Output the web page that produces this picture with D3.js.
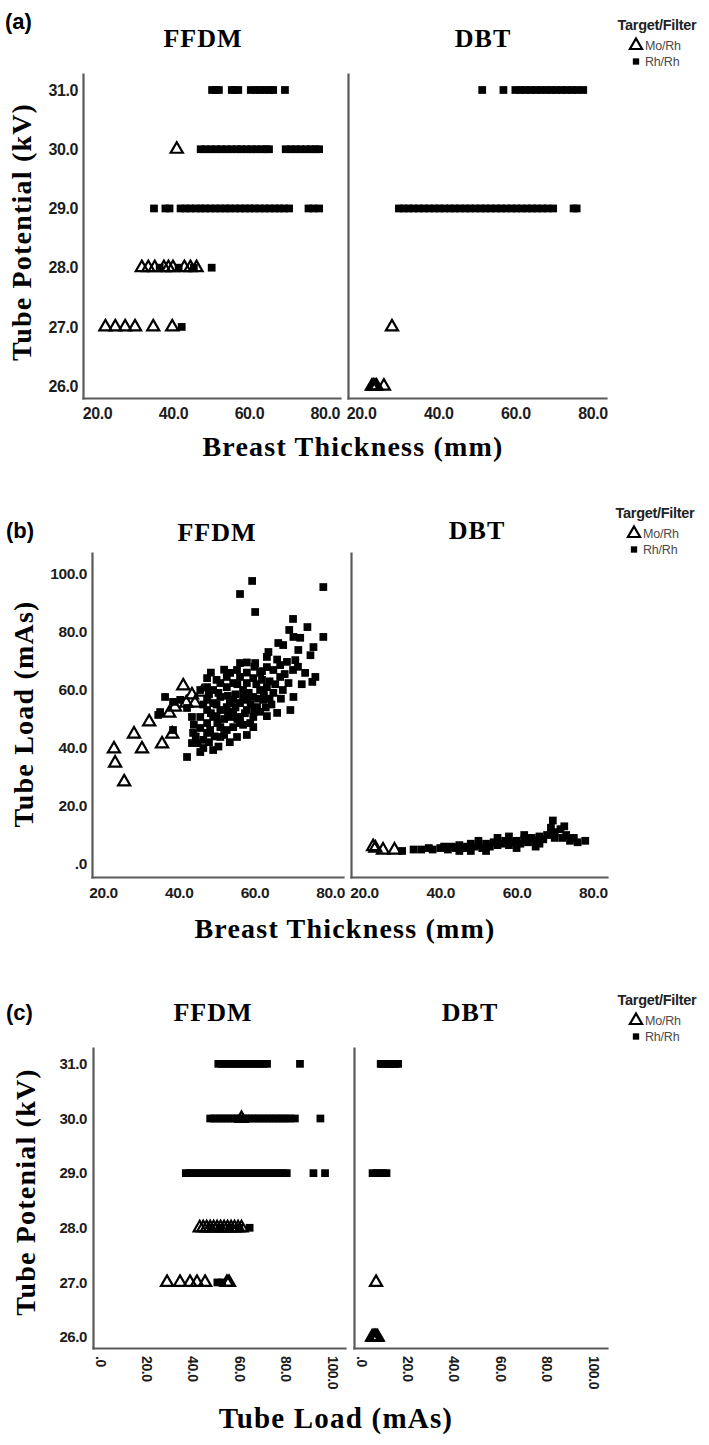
<!DOCTYPE html>
<html><head><meta charset="utf-8">
<script src="https://cdn.jsdelivr.net/npm/d3@7"></script>
<style>body{margin:0;background:#fff}</style>
</head><body><svg id="chart" width="709" height="1445"></svg>
<script>
// ---------------- DATA ----------------
const kvTicks = [26, 27, 28, 29, 30, 31];
const thickTicks = [20, 40, 60, 80];
const loadTicks = [0, 20, 40, 60, 80, 100];
const targetFilters = ["Mo/Rh", "Rh/Rh"];
const modalities = ["FFDM", "DBT"];

// (a) Breast thickness (mm) vs tube potential (kV)
const aFfdmMo = [[41.0,30],[31.8,28],[33.5,28],[35.2,28],[37.6,28],[38.8,28],[40.0,28],[43.0,28],[44.6,28],[46.2,28],
  [22.2,27],[24.8,27],[27.4,27],[30.0,27],[34.8,27],[39.8,27]];
const aFfdmRh = [
  [50.3,31],[51.2,31],[52.1,31],[55.5,31],[56.3,31],[57.2,31],[60.5,31],[61.8,31],[63.0,31],[64.2,31],[65.4,31],[66.4,31],[69.5,31],
  [47.3,30],[48.6,30],[50.0,30],[51.4,30],[52.7,30],[54.0,30],[55.4,30],[56.8,30],[58.0,30],[59.4,30],[60.7,30],[62.0,30],[63.4,30],[64.5,30],[65.3,30],
  [69.7,30],[71.0,30],[72.3,30],[73.6,30],[75.0,30],[76.3,30],[77.5,30],[78.5,30],
  [35.0,29],[38.0,29],[39.1,29],[42.0,29],[43.3,29],[44.6,29],[46.0,29],[47.3,29],[48.5,29],[49.8,29],[51.2,29],[52.5,29],[53.8,29],[55.0,29],
  [56.4,29],[57.7,29],[59.0,29],[60.2,29],[61.5,29],[62.8,29],[64.2,29],[65.5,29],[66.8,29],[68.0,29],[69.3,29],[70.6,29],[75.7,29],[77.0,29],[78.5,29],
  [36.5,28],[41.5,28],[45.5,28],[50.2,28],[42.3,27]];
const aDbtMo = [[28.0,27],[22.8,26],[23.2,26],[23.6,26],[24.0,26],[25.9,26]];
const aDbtRh = [
  [51.4,31],[56.9,31],[60.0,31],[61.3,31],[62.6,31],[64.0,31],[65.3,31],[66.6,31],[68.0,31],[69.3,31],[70.6,31],[72.0,31],[73.3,31],[74.6,31],[76.0,31],[77.6,31],
  [29.8,29],[31.0,29],[32.3,29],[33.6,29],[35.0,29],[36.3,29],[37.6,29],[39.0,29],[40.3,29],[41.6,29],[43.0,29],[44.3,29],[45.6,29],[47.0,29],[48.3,29],
  [49.6,29],[51.0,29],[52.3,29],[53.6,29],[55.0,29],[56.3,29],[57.6,29],[59.0,29],[60.3,29],[61.6,29],[63.0,29],[64.3,29],[65.6,29],[67.0,29],[68.3,29],
  [69.8,29],[75.1,29],[75.9,29]];

// (b) Breast thickness (mm) vs tube load (mAs)
const bFfdmMo = [[22.9,39.7],[23.2,34.8],[25.6,28.3],[28.2,44.8],[30.3,39.7],[32.2,49.0],[35.6,41.4],[38.3,44.8],[41.2,61.4],
  [43.5,58.3],[46.2,59.3],[44.3,55.5],[39.0,54.1],[37.5,52.0],[42.0,55.5]];
const bFfdmRh = [[59.4,97.6],[56.2,93.1],[60.2,86.9],[78.2,95.5],[70.2,84.5],[78.2,78.3],[74.0,81.7],[69.2,80.7],[70.3,78.3],[66.3,76.2],
  [72.1,78.0],[75.6,74.8],[74.8,72.0],[63.3,71.4],[60.2,69.3],[68.6,69.7],[70.8,70.3],[76.1,64.5],[75.3,62.8],[73.4,65.9],[70.2,66.9],
  [69.0,62.4],[70.3,57.6],[66.0,52.1],[63.3,51.0],[65.0,66.9],[66.8,64.5],[63.3,67.9],[61.5,65.9],[59.7,64.1],[58.0,62.4],[56.2,64.5],
  [54.4,62.4],[52.7,64.5],[52.7,61.0],[47.5,64.1],[49.1,60.0],[51.0,57.6],[54.4,56.6],[56.2,55.5],[58.0,56.6],[59.7,57.6],[61.5,60.0],
  [63.3,61.0],[65.0,59.0],[62.3,56.6],[60.7,54.1],[58.0,53.1],[56.2,50.7],[54.4,52.1],[52.7,54.1],[51.0,53.1],[49.1,55.5],[47.5,56.6],
  [47.5,53.1],[49.1,50.7],[47.5,48.6],[45.7,50.7],[45.7,46.9],[47.5,45.2],[46.5,42.8],[44.9,41.7],[45.7,38.6],[49.1,39.3],[51.0,43.8],
  [52.7,46.2],[54.4,47.2],[55.4,43.8],[58.0,44.5],[56.2,48.6],[58.9,48.6],[59.7,50.7],[51.0,47.2],[42.2,36.9],[43.5,41.7],[43.8,45.2],
  [38.5,46.2],[36.4,57.6],[38.5,55.9],[40.4,56.6],[34.6,51.4],[35.1,52.4],[42.2,53.8],[43.5,50.7],[45.7,60.0],[47.5,61.0],[51.0,62.4],
  [53.6,65.9],[55.4,66.9],[56.2,69.3],[66.8,68.6],[63.7,73.1],[67.6,75.5],[71.6,73.8],[69.5,53.1],[59.7,47.2],[53.6,50.7],[50.2,48.6],
  [48.3,46.2],[55.0,58.5],[57.0,60.0],[53.0,58.0],[50.0,51.0],[60.5,62.0],[62.0,63.5],[64.0,63.0],[57.5,52.0],[61.5,52.5],[44.0,48.0],
  [48.0,58.5],[58.0,66.0],
  [46.5,55.0],[48.5,52.0],[50.0,55.0],[50.5,59.0],[52.0,50.0],[53.0,52.5],[53.5,55.5],[55.0,54.0],[55.5,50.0],[57.0,57.5],[57.0,48.0],
  [58.5,59.0],[59.0,55.0],[60.0,52.5],[61.0,57.0],[62.5,58.5],[63.0,54.0],[64.0,57.0],[65.5,62.0],[67.5,60.0],[68.0,65.5],[62.0,66.5],
  [60.0,68.0],[58.0,69.5],[49.5,44.0],[52.0,44.5],[53.5,42.0],[48.0,42.0],[46.5,40.0],[50.5,40.5],[44.5,44.0],[55.5,62.0],[50.0,63.5],
  [52.0,67.0],[48.5,66.0],[71.5,68.0],[72.5,62.0],[67.0,57.0],[64.5,55.0],[66.0,70.5]];
const bDbtMo = [[22.4,6.0],[23.0,5.5],[25.0,4.8],[28.0,4.8]];
const bDbtRh = [[30,4.5],[33,5],[35,5],[37,5.5],[38,5],[40,5.5],[41,6],[42,5],[43,6],[44,5.5],[45,6.5],[46,5.5],[47,6],[48,7],[49,6],
  [50,6.5],[51,5.5],[52,7],[53,6],[54,7.5],[55,6.5],[56,7],[57,8],[58,6.5],[59,7.5],[60,8],[61,7],[62,8.5],[63,7.5],[64,9],[65,8],
  [66,9.5],[67,8.5],[68,10],[69.5,15],[70,11],[71.5,12],[72,9],[73,10],[74,8],[75,9],[76,7.5],[78,8],[50,8],[55,9],[45,4.5],[60,5.5],
  [65,6],[52,4.5],[58,9.5],[62,10],[72.5,13],[48,4.5],[69,12.5],[66,7],[70,9]];

// (c) Tube load (mAs) vs tube potential (kV)
const cFfdmMo = [[61.0,30],[43,28],[44.5,28],[46,28],[47.5,28],[49,28],[50.5,28],[52,28],[53.5,28],[55,28],[56.5,28],[58,28],[59.5,28],[61,28],
  [28.9,27],[34.5,27],[38.8,27],[41.8,27],[45.3,27],[54.7,27],[55.6,27]];
const cFfdmRh = [
  [51,31],[52.5,31],[54,31],[55.5,31],[57,31],[58.5,31],[60,31],[61.5,31],[63,31],[64.5,31],[66,31],[67.5,31],[69,31],[70.5,31],[72,31],[86.2,31],
  [47.5,30],[49,30],[50.5,30],[52,30],[53.5,30],[55,30],[56.5,30],[58,30],[59.5,30],[61,30],[62.5,30],[64,30],[65.5,30],[67,30],[68.5,30],
  [70,30],[71.5,30],[73,30],[74.5,30],[76,30],[77.5,30],[79,30],[80.5,30],[82,30],[84,30],[95,30],
  [37,29],[38.5,29],[40,29],[41.5,29],[43,29],[44.5,29],[46,29],[47.5,29],[49,29],[50.5,29],[52,29],[53.5,29],[55,29],[56.5,29],[58,29],
  [59.5,29],[61,29],[62.5,29],[64,29],[65.5,29],[67,29],[68.5,29],[70,29],[71.5,29],[73,29],[74.5,29],[76,29],[77.5,29],[79,29],[80.5,29],[92,29],[97,29],
  [48,28],[52,28],[56,28],[60,28],[64.5,28],[50.6,27],[52.6,27]];
const cDbtMo = [[6.5,27],[4.8,26],[5.3,26],[5.8,26],[6.3,26],[6.8,26],[7.2,26]];
const cDbtRh = [[8.5,31],[10,31],[11.5,31],[13,31],[14.5,31],[16,31],[9,31],[12,31],[15,31],
  [5,29],[6.5,29],[8,29],[9.5,29],[11,29]];

// ---------------- DRAWING ----------------
const svg = d3.select('#chart');
const SANS = "'Liberation Sans', Arial, Helvetica, sans-serif";
const SERIF = "'Liberation Serif', 'Times New Roman', Times, serif";
const AXIS_COLOR = '#5a5a5a';
const fmt = d => d === 0 ? '.0' : d.toFixed(1);

function drawPanel(p) {
  const x = d3.scaleLinear().domain(p.xDomain).range(p.xRange);
  const y = d3.scaleLinear().domain(p.yDomain).range(p.yRange);
  const g = svg.append('g');
  const ya = d3.axisLeft(y).tickValues(p.showY ? p.yTicks : []).tickSize(0).tickPadding(p.yPad).tickFormat(fmt);
  const yg = g.append('g').attr('transform', `translate(${p.xRange[0]},0)`).call(ya);
  const xa = d3.axisBottom(x).tickValues(p.xTicks).tickSize(0).tickPadding(p.xPad).tickFormat(fmt);
  const xg = g.append('g').attr('transform', `translate(0,${p.yRange[0]})`).call(xa);
  [yg, xg].forEach(a => {
    a.select('.domain').attr('stroke', AXIS_COLOR).attr('stroke-width', 2.2).attr('stroke-linecap', 'square');
    a.selectAll('text').attr('fill', '#1c1c1c')
      .style('font-family', SANS).style('font-weight', 'bold').style('font-size', p.tickFont + 'px')
      .style('letter-spacing', '-0.4px');
  });
  if (p.rotateX) {
    xg.selectAll('text').attr('y', 0).attr('x', 8).attr('dy', '0.35em')
      .attr('transform', 'rotate(90)').style('text-anchor', 'start').style('font-size', p.xTickFont + 'px');
  }
  g.append('g').selectAll('path').data(p.rh).join('path')
    .attr('d', d3.symbol(d3.symbolSquare, 60)())
    .attr('transform', d => `translate(${x(d[0])},${y(d[1])})`)
    .attr('fill', '#000');
  g.append('g').selectAll('path').data(p.mo).join('path')
    .attr('d', d3.symbol(d3.symbolTriangle, 64)())
    .attr('transform', d => `translate(${x(d[0])},${y(d[1])})`)
    .attr('fill', 'none').attr('stroke', '#000').attr('stroke-width', 2.2).attr('stroke-linejoin', 'miter');
}

function text(str, x, y, opts) {
  const t = svg.append('text').attr('x', x).attr('y', y).text(str)
    .style('font-family', opts.family || SANS)
    .style('font-size', opts.size + 'px')
    .style('font-weight', opts.weight || 'bold')
    .attr('fill', opts.fill || '#000')
    .attr('text-anchor', opts.anchor || 'start');
  if (opts.ls !== undefined) t.style('letter-spacing', opts.ls + 'px');
  if (opts.rotate) t.attr('transform', `rotate(${opts.rotate},${x},${y})`);
  return t;
}

function legend(cx, yTitle) {
  text('Target/Filter', cx, yTitle, {size: 14.5, anchor: 'middle', ls: -0.3, fill: '#222'});
  targetFilters.forEach((lab, i) => {
    const yy = yTitle + 20 + i * 16;
    const sym = svg.append('path')
      .attr('transform', `translate(${cx - 21},${yy - 4.5})`);
    if (i === 0) sym.attr('d', d3.symbol(d3.symbolTriangle, 64)()).attr('fill', 'none').attr('stroke', '#000').attr('stroke-width', 2.2);
    else sym.attr('d', d3.symbol(d3.symbolSquare, 40)()).attr('fill', '#000');
    text(lab, cx - 12, yy, {size: 12.5, weight: 'normal', fill: '#4a4a4a', ls: -0.2});
  });
}

// ---- Panel (a)
drawPanel({xDomain: [16.3, 84], xRange: [83, 340], yDomain: [25.8, 31.27], yRange: [398, 74],
  xTicks: thickTicks, yTicks: kvTicks, showY: true, yPad: 5, xPad: 10, tickFont: 16, mo: aFfdmMo, rh: aFfdmRh});
drawPanel({xDomain: [16.6, 83.5], xRange: [348, 606], yDomain: [25.8, 31.27], yRange: [398, 74],
  xTicks: thickTicks, yTicks: kvTicks, showY: false, yPad: 5, xPad: 10, tickFont: 16, mo: aDbtMo, rh: aDbtRh});
text('(a)', 5, 29, {size: 22});
text(modalities[0], 203, 47, {family: SERIF, size: 26, anchor: 'middle', ls: 1});
text(modalities[1], 483, 47, {family: SERIF, size: 26, anchor: 'middle', ls: 1});
text('Tube Potential (kV)', 31, 232, {family: SERIF, size: 28, anchor: 'middle', ls: 1.2, rotate: -90});
text('Breast Thickness (mm)', 353, 456, {family: SERIF, size: 28, anchor: 'middle', ls: 1.2});
legend(657, 30);

// ---- Panel (b)
drawPanel({xDomain: [17.1, 83.4], xRange: [92, 343], yDomain: [-4.48, 107.24], yRange: [877, 553],
  xTicks: thickTicks, yTicks: loadTicks, showY: true, yPad: 5, xPad: 10, tickFont: 15.5, mo: bFfdmMo, rh: bFfdmRh});
drawPanel({xDomain: [16.6, 83.7], xRange: [351, 607], yDomain: [-4.48, 107.24], yRange: [877, 553],
  xTicks: thickTicks, yTicks: loadTicks, showY: false, yPad: 5, xPad: 10, tickFont: 15.5, mo: bDbtMo, rh: bDbtRh});
text('(b)', 6, 538, {size: 22});
text(modalities[0], 217, 541, {family: SERIF, size: 26, anchor: 'middle', ls: 1});
text(modalities[1], 477, 539, {family: SERIF, size: 26, anchor: 'middle', ls: 1});
text('Tube Load (mAs)', 33, 714, {family: SERIF, size: 28, anchor: 'middle', ls: 1.2, rotate: -90});
text('Breast Thickness (mm)', 345, 938, {family: SERIF, size: 28, anchor: 'middle', ls: 1.2});
legend(655, 518);

// ---- Panel (c)
drawPanel({xDomain: [-3.0, 105.6], xRange: [93, 345], yDomain: [25.8, 31.29], yRange: [1348, 1048],
  xTicks: loadTicks, yTicks: kvTicks, showY: true, yPad: 6, xPad: 7, tickFont: 15, xTickFont: 14, rotateX: true, mo: cFfdmMo, rh: cFfdmRh});
drawPanel({xDomain: [-3.0, 106], xRange: [354, 607], yDomain: [25.8, 31.29], yRange: [1348, 1048],
  xTicks: loadTicks, yTicks: kvTicks, showY: false, yPad: 6, xPad: 7, tickFont: 15, xTickFont: 14, rotateX: true, mo: cDbtMo, rh: cDbtRh});
text('(c)', 6, 1020, {size: 22});
text(modalities[0], 213, 1021, {family: SERIF, size: 26, anchor: 'middle', ls: 1});
text(modalities[1], 470, 1021, {family: SERIF, size: 26, anchor: 'middle', ls: 1});
text('Tube Potenial (kV)', 35, 1192, {family: SERIF, size: 28, anchor: 'middle', ls: 1.2, rotate: -90});
text('Tube Load (mAs)', 336, 1428, {family: SERIF, size: 29, anchor: 'middle', ls: 1.2});
legend(657, 1005);
</script></body></html>
